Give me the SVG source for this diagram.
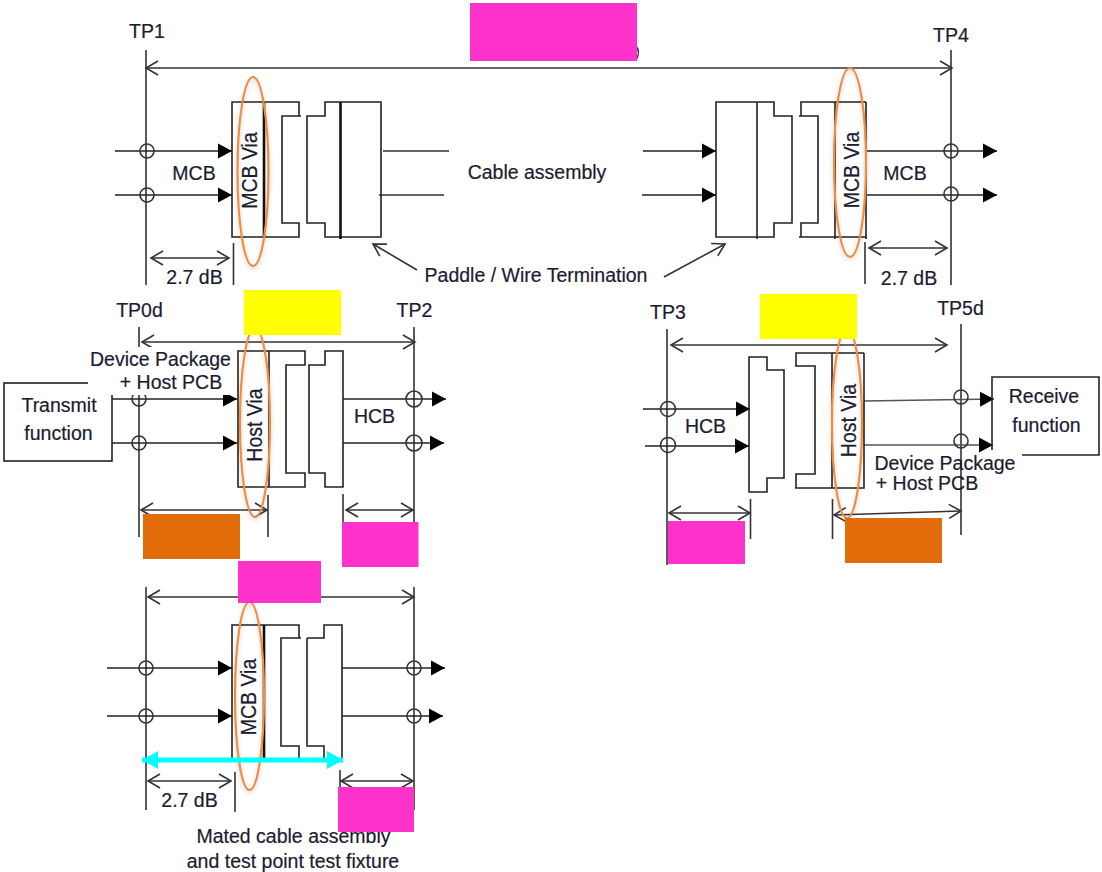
<svg xmlns="http://www.w3.org/2000/svg" width="1102" height="872" viewBox="0 0 1102 872">
<style>
text{font-family:"Liberation Sans",Arial,sans-serif;font-size:19.5px;fill:#1c1c30;stroke:#1c1c30;stroke-width:0.2}
.m{text-anchor:middle}
.b{fill:none;stroke:#222;stroke-width:1.6}
.t{fill:none;stroke:#111;stroke-width:2.6}
.l{stroke:#333;stroke-width:1.6;fill:none}
.s{stroke:#222;stroke-width:1.6;fill:none;marker-end:url(#fa)}
.d{stroke:#333;stroke-width:1.6;fill:none;marker-start:url(#oa);marker-end:url(#oa)}
.e{stroke:#333;stroke-width:1.6;fill:none;marker-end:url(#oa)}
.c{fill:none;stroke:#333;stroke-width:1.6}
.v{fill:none;stroke:#ED8E42;stroke-width:2.2;filter:url(#sh)}
.mg{fill:#FF33CC}.yl{fill:#FFFF00}.or{fill:#E36C0A}
</style>
<defs>
<marker id="fa" markerUnits="userSpaceOnUse" markerWidth="16" markerHeight="18" refX="14" refY="8" orient="auto"><path d="M0,0.500L14,8L0,15.500Z" fill="#000"/></marker>
<marker id="oa" markerUnits="userSpaceOnUse" markerWidth="16" markerHeight="18" refX="14" refY="8" orient="auto-start-reverse"><path d="M2,1L14,8L2,15" fill="none" stroke="#333" stroke-width="1.6"/></marker>
<marker id="ca" markerUnits="userSpaceOnUse" markerWidth="18" markerHeight="20" refX="16" refY="10" orient="auto-start-reverse"><path d="M0,1L16,10L0,19Z" fill="#00FFFF"/></marker>
<filter id="sh" x="-40%" y="-10%" width="180%" height="120%"><feDropShadow dx="0" dy="2" stdDeviation="2" flood-color="#000" flood-opacity="0.2"/></filter>
</defs>

<g id="connectors">
<path class="l" d="M146 50V285M951 50V285M233.500 243V285M865 242V284"/>
<path class="d" d="M146 68H952"/>
<path class="d" d="M151 258H229"/>
<path class="d" d="M869 248H947"/>
<path class="s" d="M115 151H232"/><path class="s" d="M115 195H232"/>
<path class="l" d="M383 151H449M379 195H444"/>
<path class="s" d="M643 151H716"/><path class="s" d="M642 195H716"/>
<path class="s" d="M867 151H997"/><path class="s" d="M867 195H997"/>
<circle class="c" cx="147" cy="151" r="7"/><circle class="c" cx="147" cy="195" r="7"/>
<circle class="c" cx="951" cy="151" r="7"/><circle class="c" cx="951" cy="194" r="7"/>
<path class="e" d="M417 270L373 244"/><path class="e" d="M664 277L725 244"/>
<path class="l" d="M139 327V537M414 327V530M268 495V537M343 494V537"/>
<path class="d" d="M142 342H415"/>
<path class="d" d="M141 510H267"/>
<path class="d" d="M346 510H413"/>
<path class="s" d="M112 399H237"/><path class="s" d="M112 443H237"/>
<path class="s" d="M343 399H446"/><path class="s" d="M343 443H444"/>
<circle class="c" cx="139" cy="399" r="7"/><circle class="c" cx="139" cy="443" r="7"/>
<circle class="c" cx="414" cy="399" r="8"/><circle class="c" cx="414" cy="443" r="8"/>
<path class="l" d="M667 329V565M961 324V535M750.500 499V539M832.500 499V539"/>
<path class="d" d="M671 345H947"/>
<path class="d" d="M669 513H750"/>
<path class="d" d="M834 515L961 511"/>
<path class="s" d="M643 409H750"/><path class="s" d="M645 446H749"/>
<path class="s" d="M864 401L994 399" style="stroke:#555"/><path class="s" d="M864 445H993" style="stroke:#555"/>
<circle class="c" cx="668" cy="409" r="7.500"/><circle class="c" cx="668" cy="445" r="7.500"/>
<circle class="c" cx="961" cy="397" r="7"/><circle class="c" cx="961" cy="441" r="7"/>
<path class="l" d="M146 587V810M414 587V810M235 772V812M340 770V790"/>
<path class="d" d="M148 597H414"/>
<path class="d" d="M148 781H231"/>
<path class="d" d="M341 781H413"/>
<path class="s" d="M107 668H232"/><path class="s" d="M107 716H232"/>
<path class="s" d="M342 668H445"/><path class="s" d="M342 716H443"/>
<circle class="c" cx="146" cy="668" r="7"/><circle class="c" cx="146" cy="716" r="7"/>
<circle class="c" cx="414" cy="668" r="7"/><circle class="c" cx="414" cy="716" r="7"/>
</g>

<g id="plug-tp1">
<path class="b" d="M264 102H232V237H264M264 102H299V116H301M301 116H282V223H299V237H264"/>
<path class="t" d="M264 102V237"/>
</g>
<g id="receptacle-tp1">
<path class="b" d="M307 116V223H325V237H381V102H325V116Z"/>
<path class="t" d="M340.500 102V239"/>
</g>
<g id="receptacle-tp4">
<path class="b" d="M716 102H774V116H792V223H774V237H716ZM757 102V239"/>
</g>
<g id="plug-tp4">
<path class="b" d="M866 102H801V116H799M799 116H818V223H801V237H799M799 237H867M866 102V239M835 102V239"/>
</g>
<g id="plug-tp0d">
<path class="b" d="M305 351H238V487H305V473H286V365H305ZM269 351V487"/>
</g>
<g id="receptacle-tp2">
<path class="b" d="M309 365V473H325V487H343V351H325V365Z"/>
</g>
<g id="receptacle-tp3">
<path class="b" d="M749 357H767V370H784V478H767V492H749Z"/>
</g>
<g id="plug-tp5d">
<path class="b" d="M864 353H796V366H795M795 366H815V474H796V488H795M795 488H864V353M832 353V488"/>
</g>
<g id="plug-bottom">
<path class="b" d="M232 760V625H299V638H301M301 638H281V746H299V760"/>
<path class="t" d="M264 625V760"/>
</g>
<g id="receptacle-bottom">
<path class="b" d="M307 638V746H324V760M307 638H324V625H342V760"/>
</g>

<g id="transmit-function">
<rect x="4" y="383" width="108" height="78" class="b" style="fill:#fff"/>
<text x="59" y="412" class="m">Transmit</text>
<text x="58.500" y="440" class="m">function</text>
</g>
<g id="receive-function">
<path class="b" d="M992 450V377H1099V455H1022"/>
<text x="1044" y="403" class="m">Receive</text>
<text x="1046.500" y="432" class="m">function</text>
</g>

<g id="via-tp1"><ellipse class="v" cx="253" cy="171.500" rx="15.500" ry="94.500"/><text transform="translate(257 170.500) rotate(-90) scale(1 1.15)" class="m">MCB Via</text></g>
<g id="via-tp4"><ellipse class="v" cx="850" cy="162.500" rx="16" ry="94.500"/><text transform="translate(859 170) rotate(-90) scale(1 1.15)" class="m">MCB Via</text></g>
<g id="via-tp0d"><ellipse class="v" cx="255" cy="422.500" rx="15" ry="94.500"/><text transform="translate(262 425) rotate(-90) scale(1 1.15)" class="m">Host Via</text></g>
<g id="via-tp5d"><ellipse class="v" cx="847" cy="423.500" rx="15" ry="94.500"/><text transform="translate(856 420.500) rotate(-90) scale(1 1.15)" class="m">Host Via</text></g>
<g id="via-bottom"><ellipse class="v" cx="249.500" cy="696" rx="14.500" ry="94"/><text transform="translate(256 697) rotate(-90) scale(1 1.15)" class="m">MCB Via</text></g>

<g id="labels">
<text x="147" y="38" class="m">TP1</text>
<text x="951" y="42" class="m">TP4</text>
<text x="194" y="180" class="m">MCB</text>
<text x="905" y="180" class="m">MCB</text>
<text x="537" y="179" class="m">Cable assembly</text>
<text x="194.500" y="284" class="m">2.7 dB</text>
<text x="909" y="285" class="m">2.7 dB</text>
<text x="536" y="282" class="m">Paddle / Wire Termination</text>
<text x="139.500" y="317" class="m">TP0d</text>
<text x="414.500" y="317" class="m">TP2</text>
<text x="668" y="319" class="m">TP3</text>
<text x="960.500" y="315" class="m">TP5d</text>
<rect x="88" y="347" width="146" height="48" fill="#fff"/>
<text x="160.500" y="366" class="m">Device Package</text>
<text x="171" y="389" class="m">+ Host PCB</text>
<text x="374.500" y="423" class="m">HCB</text>
<text x="705.500" y="433" class="m">HCB</text>
<text x="945" y="470" class="m">Device Package</text>
<text x="927" y="490" class="m">+ Host PCB</text>
<text x="189.500" y="807" class="m">2.7 dB</text>
<text x="293.500" y="843" class="m">Mated cable assembly</text>
<text x="293" y="868" class="m">and test point test fixture</text>
</g>

<path id="cyan-span" d="M142 760H343" stroke="#00FFFF" stroke-width="5" fill="none" marker-start="url(#ca)" marker-end="url(#ca)"/>

<g id="patches">
<path d="M636 46Q641 52 636 60" fill="none" stroke="#1f3a8a" stroke-width="1.500"/>
<rect class="mg" x="470" y="3" width="167" height="58"/>
<rect class="yl" x="244" y="290" width="97" height="45"/>
<rect class="yl" x="760" y="294" width="97" height="45"/>
<rect class="or" x="143" y="514" width="97" height="45"/>
<rect class="mg" x="342" y="522" width="76.500" height="45"/>
<rect class="mg" x="668" y="521" width="77" height="43"/>
<rect class="or" x="845" y="518" width="97" height="45"/>
<rect class="mg" x="238" y="561" width="83" height="42"/>
<rect class="mg" x="338" y="787" width="76" height="45"/>
</g>
</svg>
